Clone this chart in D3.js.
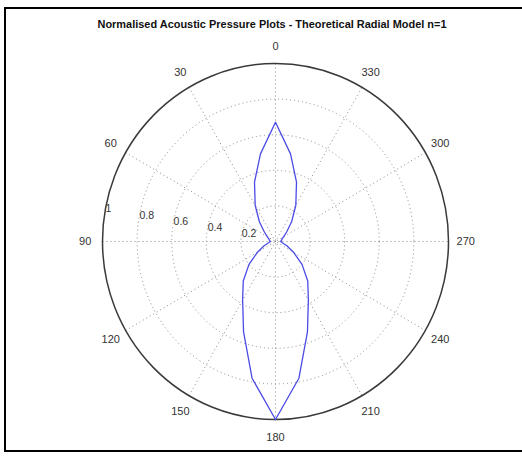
<!DOCTYPE html>
<html>
<head>
<meta charset="utf-8">
<script src="https://cdn.jsdelivr.net/npm/d3@7"></script>
<style>
  html, body { margin: 0; padding: 0; background: #fff; }
  svg { display: block; }
</style>
</head>
<body>
<svg id="chart" width="522" height="459"></svg>
<script>
// Polar angles in degrees, counter-clockwise from the top (0 = up, 90 = left)
const angles = [0, 10, 20, 30, 40, 50, 60, 70, 80, 90, 100, 110, 120, 130, 140, 150, 160, 170,
                180, 190, 200, 210, 220, 230, 240, 250, 260, 270, 280, 290, 300, 310, 320, 330, 340, 350];
// Normalised acoustic pressure at each angle
const pressure = [0.67, 0.50, 0.355, 0.235, 0.145, 0.085, 0.055, 0.04, 0.035, 0.03,
                  0.04, 0.07, 0.12, 0.20, 0.29, 0.38, 0.54, 0.78,
                  1.00, 0.78, 0.54, 0.38, 0.29, 0.20, 0.12, 0.07, 0.04,
                  0.03, 0.035, 0.04, 0.055, 0.085, 0.145, 0.235, 0.355, 0.50];
// Grid rings and their labels
const ringValues = [0.2, 0.4, 0.6, 0.8, 1];
const ringLabels = ["0.2", "0.4", "0.6", "0.8", "1"];
// Spoke angles and their labels
const spokeAngles = [0, 30, 60, 90, 120, 150, 180, 210, 240, 270, 300, 330];
const spokeLabels = ["0", "30", "60", "90", "120", "150", "180", "210", "240", "270", "300", "330"];

const titleText = "Normalised Acoustic Pressure Plots - Theoretical Radial Model n=1";

const svg = d3.select("#chart");
const cx = 275.5, cy = 241.5;

const angle = d3.scaleLinear().domain([0, 360]).range([0, 2 * Math.PI]);
const rx = d3.scaleLinear().domain([0, 1]).range([0, 173]);
const ry = d3.scaleLinear().domain([0, 1]).range([0, 178]);

const px = (a, r) => cx - rx(r) * Math.sin(angle(a));
const py = (a, r) => cy - ry(r) * Math.cos(angle(a));

// Frame
svg.append("rect")
  .attr("x", 5).attr("y", 8).attr("width", 540).attr("height", 443)
  .attr("fill", "#fff").attr("stroke", "#000").attr("stroke-width", 2);

// Title
svg.append("text")
  .attr("x", 272).attr("y", 28)
  .attr("text-anchor", "middle")
  .attr("font-family", "Liberation Sans, Arial, sans-serif")
  .attr("font-size", 11).attr("font-weight", "bold")
  .attr("fill", "#111")
  .attr("textLength", 349).attr("lengthAdjust", "spacingAndGlyphs")
  .text(titleText);

const grid = svg.append("g").attr("fill", "none");

// Dotted rings
grid.selectAll("ellipse.ring")
  .data(ringValues.slice(0, -1))
  .join("ellipse")
  .attr("class", "ring")
  .attr("cx", cx).attr("cy", cy)
  .attr("rx", d => rx(d)).attr("ry", d => ry(d))
  .attr("stroke", "#8a8a8a").attr("stroke-width", 1)
  .attr("stroke-dasharray", "1,3");

// Dotted spokes through the centre
grid.selectAll("line.spoke")
  .data(spokeAngles.slice(0, 6))
  .join("line")
  .attr("class", "spoke")
  .attr("x1", d => px(d, 1)).attr("y1", d => py(d, 1))
  .attr("x2", d => px(d + 180, 1)).attr("y2", d => py(d + 180, 1))
  .attr("stroke", "#8a8a8a").attr("stroke-width", 1)
  .attr("stroke-dasharray", "1,3");

// Outer ring
grid.append("ellipse")
  .attr("cx", cx).attr("cy", cy)
  .attr("rx", rx(1)).attr("ry", ry(1))
  .attr("stroke", "#3a3a3a").attr("stroke-width", 1.5);

// Angle labels
svg.append("g")
  .selectAll("text")
  .data(spokeAngles)
  .join("text")
  .attr("x", (d) => px(d, 1.1))
  .attr("y", (d) => py(d, 1.1))
  .attr("dy", "0.35em")
  .attr("text-anchor", "middle")
  .attr("font-family", "Liberation Sans, Arial, sans-serif")
  .attr("font-size", 11)
  .attr("fill", "#333")
  .text((d, i) => spokeLabels[i]);

// Radial labels along the 80 degree line
svg.append("g")
  .selectAll("text")
  .data(ringValues)
  .join("text")
  .attr("x", d => px(80, d + 0.01) + 2)
  .attr("y", d => py(80, d + 0.01))
  .attr("dy", "0.2em")
  .attr("font-family", "Liberation Sans, Arial, sans-serif")
  .attr("font-size", 10.5)
  .attr("fill", "#333")
  .text((d, i) => ringLabels[i]);

// Pressure pattern
const pts = angles.map((a, i) => [px(a, pressure[i]), py(a, pressure[i])]);
svg.append("path")
  .attr("d", d3.line().curve(d3.curveLinearClosed)(pts))
  .attr("fill", "none")
  .attr("stroke", "#4b4be6")
  .attr("stroke-width", 1.3)
  .attr("stroke-linejoin", "round");
</script>
</body>
</html>
